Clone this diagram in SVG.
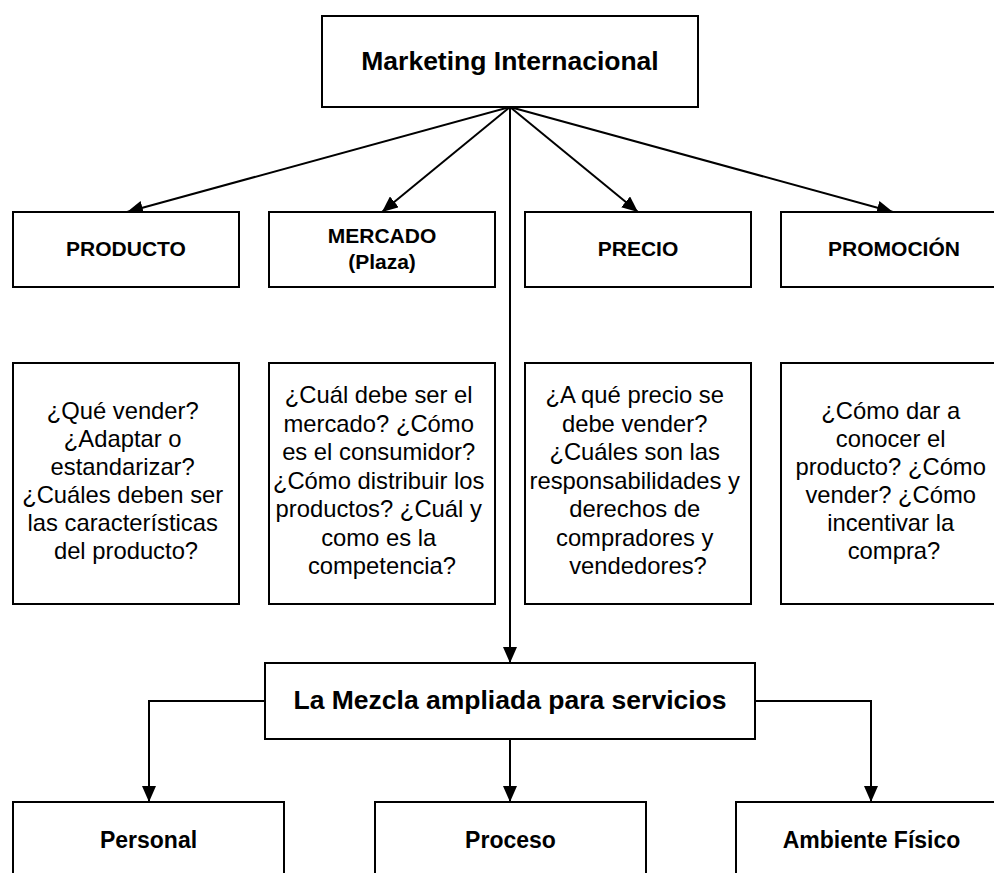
<svg xmlns="http://www.w3.org/2000/svg" width="994" height="873" viewBox="0 0 994 873">
  <defs>
    <marker id="arrow" markerUnits="userSpaceOnUse" markerWidth="16" markerHeight="14" refX="16" refY="7" orient="auto">
      <path d="M0,0 L16,7 L0,14 z" fill="#000"/>
    </marker>
    <style>
      .box { fill: #fff; stroke: #000; stroke-width: 2; }
      .edge { fill: none; stroke: #000; stroke-width: 2; marker-end: url(#arrow); }
      text { font-family: "Liberation Sans", Arial, sans-serif; fill: #000; text-anchor: middle; }
      .title { font-size: 26.5px; font-weight: bold; }
      .head { font-size: 21px; font-weight: bold; }
      .foot { font-size: 23px; font-weight: bold; }
      .body { font-size: 23.8px; }
    </style>
  </defs>
  <rect width="994" height="873" fill="#fff"/>

  <!-- connectors -->
  <g id="connectors">
    <line class="edge" x1="510" y1="107" x2="127" y2="212"/>
    <line class="edge" x1="510" y1="107" x2="382" y2="212"/>
    <line class="edge" x1="510" y1="107" x2="638" y2="212"/>
    <line class="edge" x1="510" y1="107" x2="893" y2="212"/>
    <line class="edge" x1="510" y1="107" x2="510" y2="663"/>
    <path class="edge" d="M265,701 H149 V802"/>
    <line class="edge" x1="510" y1="739" x2="510" y2="802"/>
    <path class="edge" d="M755,701 H871 V802"/>
  </g>

  <!-- root -->
  <g id="marketing-internacional">
    <rect class="box" x="322" y="16" width="376" height="91"/>
    <text class="title" x="510" y="70">Marketing Internacional</text>
  </g>

  <!-- four Ps headers -->
  <g id="producto">
    <rect class="box" x="13" y="212" width="226" height="75"/>
    <text class="head" x="126" y="256">PRODUCTO</text>
  </g>
  <g id="mercado">
    <rect class="box" x="269" y="212" width="226" height="75"/>
    <text class="head" x="382" y="243">MERCADO</text>
    <text class="head" x="382" y="269">(Plaza)</text>
  </g>
  <g id="precio">
    <rect class="box" x="525" y="212" width="226" height="75"/>
    <text class="head" x="638" y="256">PRECIO</text>
  </g>
  <g id="promocion">
    <rect class="box" x="781" y="212" width="226" height="75"/>
    <text class="head" x="894" y="256">PROMOCIÓN</text>
  </g>

  <!-- question boxes -->
  <g id="producto-preguntas">
    <rect class="box" x="13" y="363" width="226" height="241"/>
    <text class="body" x="126">
      <tspan x="126" y="419">¿Qué vender?</tspan>
      <tspan x="126" y="447">¿Adaptar o</tspan>
      <tspan x="126" y="475">estandarizar?</tspan>
      <tspan x="126" y="503">¿Cuáles deben ser</tspan>
      <tspan x="126" y="531">las características</tspan>
      <tspan x="126" y="559">del producto?</tspan>
    </text>
  </g>
  <g id="mercado-preguntas">
    <rect class="box" x="269" y="363" width="226" height="241"/>
    <text class="body" x="382">
      <tspan x="382" y="403">¿Cuál debe ser el</tspan>
      <tspan x="382" y="431.5">mercado? ¿Cómo</tspan>
      <tspan x="382" y="460">es el consumidor?</tspan>
      <tspan x="382" y="488.5">¿Cómo distribuir los</tspan>
      <tspan x="382" y="517">productos? ¿Cuál y</tspan>
      <tspan x="382" y="545.5">como es la</tspan>
      <tspan x="382" y="574">competencia?</tspan>
    </text>
  </g>
  <g id="precio-preguntas">
    <rect class="box" x="525" y="363" width="226" height="241"/>
    <text class="body" x="638">
      <tspan x="638" y="403">¿A qué precio se</tspan>
      <tspan x="638" y="431.5">debe vender?</tspan>
      <tspan x="638" y="460">¿Cuáles son las</tspan>
      <tspan x="638" y="488.5">responsabilidades y</tspan>
      <tspan x="638" y="517">derechos de</tspan>
      <tspan x="638" y="545.5">compradores y</tspan>
      <tspan x="638" y="574">vendedores?</tspan>
    </text>
  </g>
  <g id="promocion-preguntas">
    <rect class="box" x="781" y="363" width="226" height="241"/>
    <text class="body" x="894">
      <tspan x="894" y="419">¿Cómo dar a</tspan>
      <tspan x="894" y="447">conocer el</tspan>
      <tspan x="894" y="475">producto? ¿Cómo</tspan>
      <tspan x="894" y="503">vender? ¿Cómo</tspan>
      <tspan x="894" y="531">incentivar la</tspan>
      <tspan x="894" y="559">compra?</tspan>
    </text>
  </g>

  <!-- extended mix for services -->
  <g id="mezcla-ampliada">
    <rect class="box" x="265" y="663" width="490" height="76"/>
    <text class="title" x="510" y="709">La Mezcla ampliada para servicios</text>
  </g>
  <g id="personal">
    <rect class="box" x="13" y="802" width="271" height="90"/>
    <text class="foot" x="148.5" y="848">Personal</text>
  </g>
  <g id="proceso">
    <rect class="box" x="375" y="802" width="271" height="90"/>
    <text class="foot" x="510.5" y="848">Proceso</text>
  </g>
  <g id="ambiente-fisico">
    <rect class="box" x="736" y="802" width="271" height="90"/>
    <text class="foot" x="871.5" y="848">Ambiente Físico</text>
  </g>
</svg>
